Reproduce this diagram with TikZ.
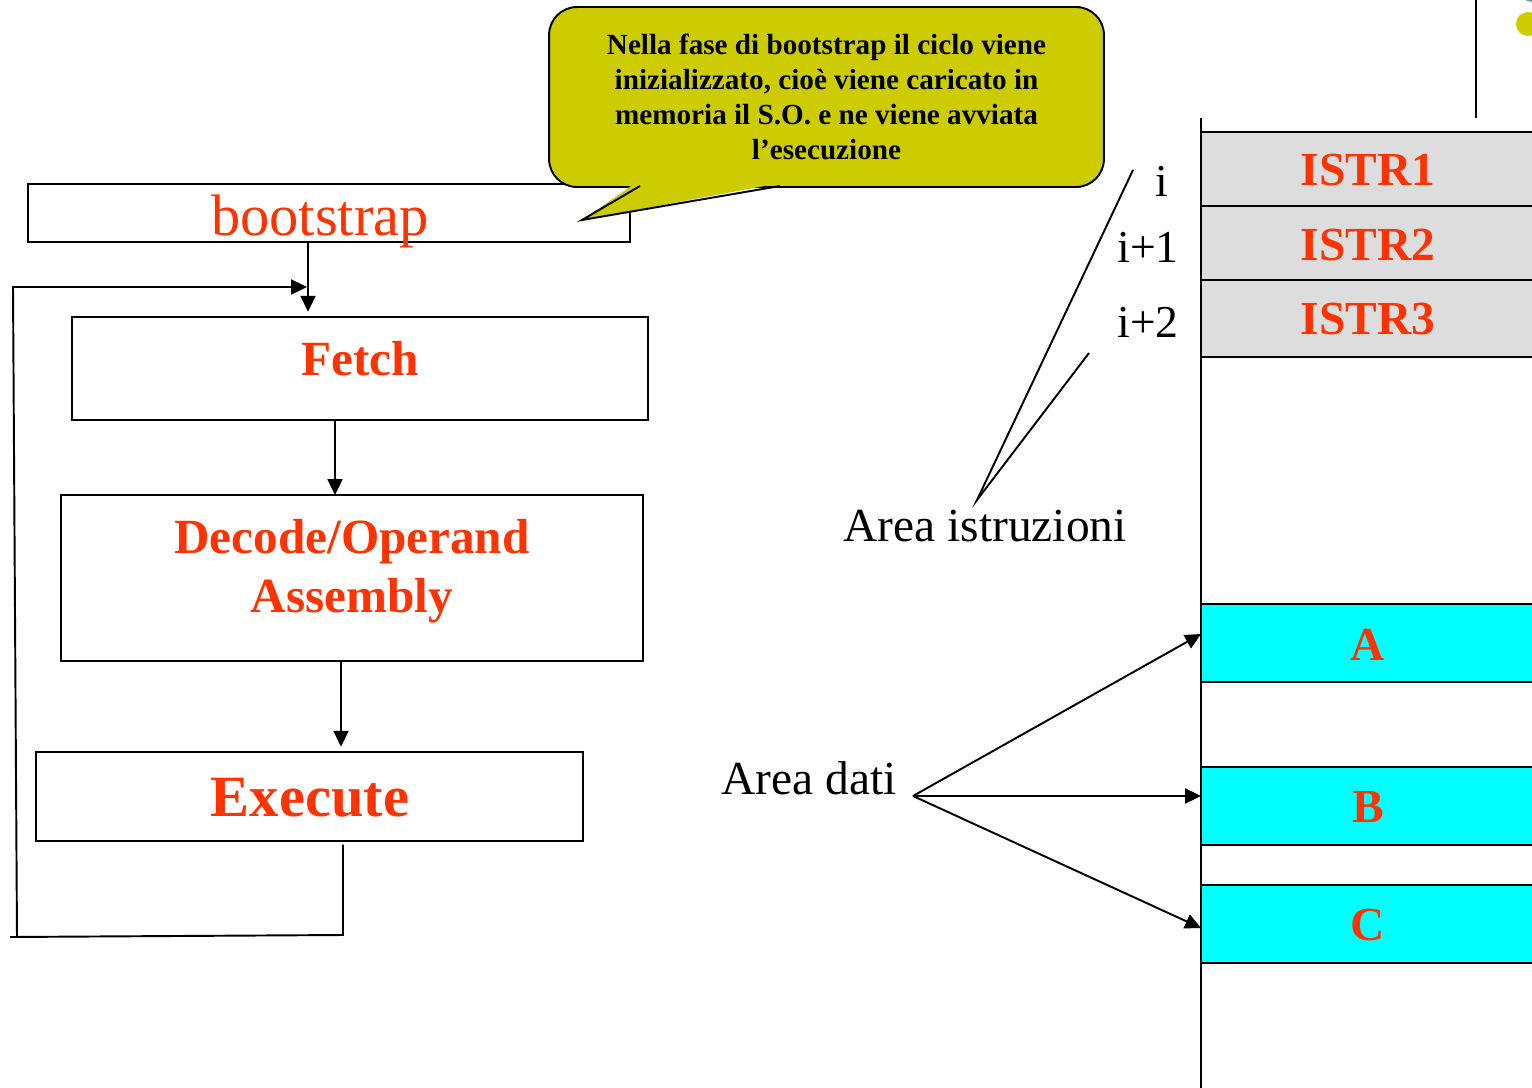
\documentclass[tikz,border=0pt]{standalone}
\usepackage{fontspec}
\setmainfont{Liberation Serif}
\usetikzlibrary{arrows.meta,calc}
\definecolor{hilite}{RGB}{255,51,0}
\definecolor{bubble}{RGB}{204,204,0}
\definecolor{memgray}{RGB}{221,221,221}
\definecolor{memcyan}{RGB}{0,255,255}
\definecolor{dotteal}{RGB}{90,160,165}
\begin{document}
\begin{tikzpicture}[x=0.02cm,y=-0.02cm,line width=1.1pt,
  box/.style={draw,inner sep=0pt,outer sep=0pt},
  boxtext/.style={inner sep=0pt,text=hilite,align=center,
    font=\bfseries\fontsize{28}{33.5}\selectfont},
  arr/.style={-{Triangle[length=9pt,width=8.5pt]}},
  row/.style={draw,inner sep=0pt,outer sep=0pt,minimum width=6.68cm},
  istr/.style={row,fill=memgray},
  dat/.style={row,fill=memcyan},
  memtext/.style={text=hilite,inner sep=0pt,font=\bfseries\fontsize{27}{32}\selectfont},
  idx/.style={inner sep=0pt,font=\fontsize{26}{30}\selectfont},
  area/.style={inner sep=0pt,font=\fontsize{27}{32}\selectfont}]
\useasboundingbox (0,0) rectangle (1532,1088);

% corner decoration
\fill[dotteal] (1532,-10) circle (12);
\fill[bubble] (1528,24) circle (12);
\draw (1476,0) -- (1476,118);

% instruction cycle
\node[box,minimum width=12.04cm,minimum height=1.16cm] (boot) at (329,213) {};
\node[box,minimum width=11.52cm,minimum height=2.06cm] (fetch) at (360,368.5) {};
\node[box,minimum width=11.64cm,minimum height=3.32cm] (decode) at (352,578) {};
\node[box,minimum width=10.94cm,minimum height=1.78cm] (exec) at (309.5,796.5) {};
\node[boxtext,font=\fontsize{33.3}{40}\selectfont] (bootlbl) at (320,221) {bootstrap};
\node[boxtext] (fetchlbl) at (360,359) {Fetch};
\node[boxtext] (decodelbl) at (352,571) {Decode/Operand\\Assembly};
\node[boxtext,font=\bfseries\fontsize{33.3}{40}\selectfont] (execlbl) at (310,798) {Execute};

\coordinate (bf) at (308,0);
\coordinate (fd) at (335,0);
\coordinate (de) at (341,0);
\coordinate (loopx) at (343,0);
\draw[arr,shorten >=3pt] (boot.south -| bf) -- (fetch.north -| bf);
\draw[arr] (fetch.south -| fd) -- (decode.north -| fd);
\draw[arr,shorten >=3pt] (decode.south -| de) -- (exec.north -| de);

% return path
\coordinate (ret1) at (343,935);
\coordinate (ret2) at (10,937);
\coordinate (ret3) at (17,937);
\coordinate (ret4) at (13,287);
\coordinate (ret5) at (307,287);
\draw ([yshift=-2pt]exec.south -| loopx) -- (ret1) -- (ret2);
\draw[arr] (ret3) -- (ret4) -- (ret5);

% callout
\node[draw,fill=bubble,rounded corners=0.56cm,minimum width=11.1cm,minimum height=3.6cm,
  inner sep=0pt,align=center,font=\bfseries\fontsize{16.6}{20}\selectfont]
  (note) at (826.5,97)
  {Nella fase di bootstrap il ciclo viene\\inizializzato, cioè viene caricato in\\memoria il S.O. e ne viene avviata\\l’esecuzione};
\coordinate (tailA) at (640,186);
\coordinate (tailB) at (582,220);
\coordinate (tailC) at (780,186);
\fill[bubble] ($(tailA)+(-3,-4)$) -- (tailB) -- ($(tailC)+(6,-4)$) -- cycle;
\draw[line join=miter] (tailA) -- (tailB) -- (tailC);

% memory
\node[istr,minimum height=1.48cm] (r1) at (1368,169) {};
\node[istr,minimum height=1.48cm] (r2) at (1368,243) {};
\node[istr,minimum height=1.54cm] (r3) at (1368,318.5) {};
\node[dat,minimum height=1.56cm] (ra) at (1368,643) {};
\node[dat,minimum height=1.56cm] (rb) at (1368,806) {};
\node[dat,minimum height=1.56cm] (rc) at (1368,924) {};
\node[memtext] (t1) at (1368,170) {ISTR1};
\node[memtext] (t2) at (1368,245) {ISTR2};
\node[memtext] (t3) at (1368,319) {ISTR3};
\node[memtext] (ta) at (1368,645) {A};
\node[memtext] (tb) at (1368,807) {B};
\node[memtext] (tc) at (1368,925) {C};
\coordinate (colTop) at (1201,118);
\coordinate (colBot) at (1201,1095);
\draw (colTop) -- (colBot);

% indices
\node[idx] (i0) at (1162,181) {i};
\node[idx] (i1) at (1148,247) {i+1};
\node[idx] (i2) at (1148,322) {i+2};

% instruction area
\node[area] (ai) at (985,526) {Area istruzioni};
\coordinate (aiTip) at (977,500);
\coordinate (aiEnd1) at (1133,170);
\coordinate (aiEnd2) at (1089,353);
\draw (aiEnd1) -- (aiTip) -- (aiEnd2);

% data area
\node[area] (ad) at (809,778) {Area dati};
\coordinate (adTip) at (913,796);
\coordinate (pa) at (1201,634);
\coordinate (pb) at (1201,796);
\coordinate (pc) at (1201,928);
\draw[arr] (adTip) -- (pa);
\draw[arr] (adTip) -- (pb);
\draw[arr] (adTip) -- (pc);
\end{tikzpicture}
\end{document}
